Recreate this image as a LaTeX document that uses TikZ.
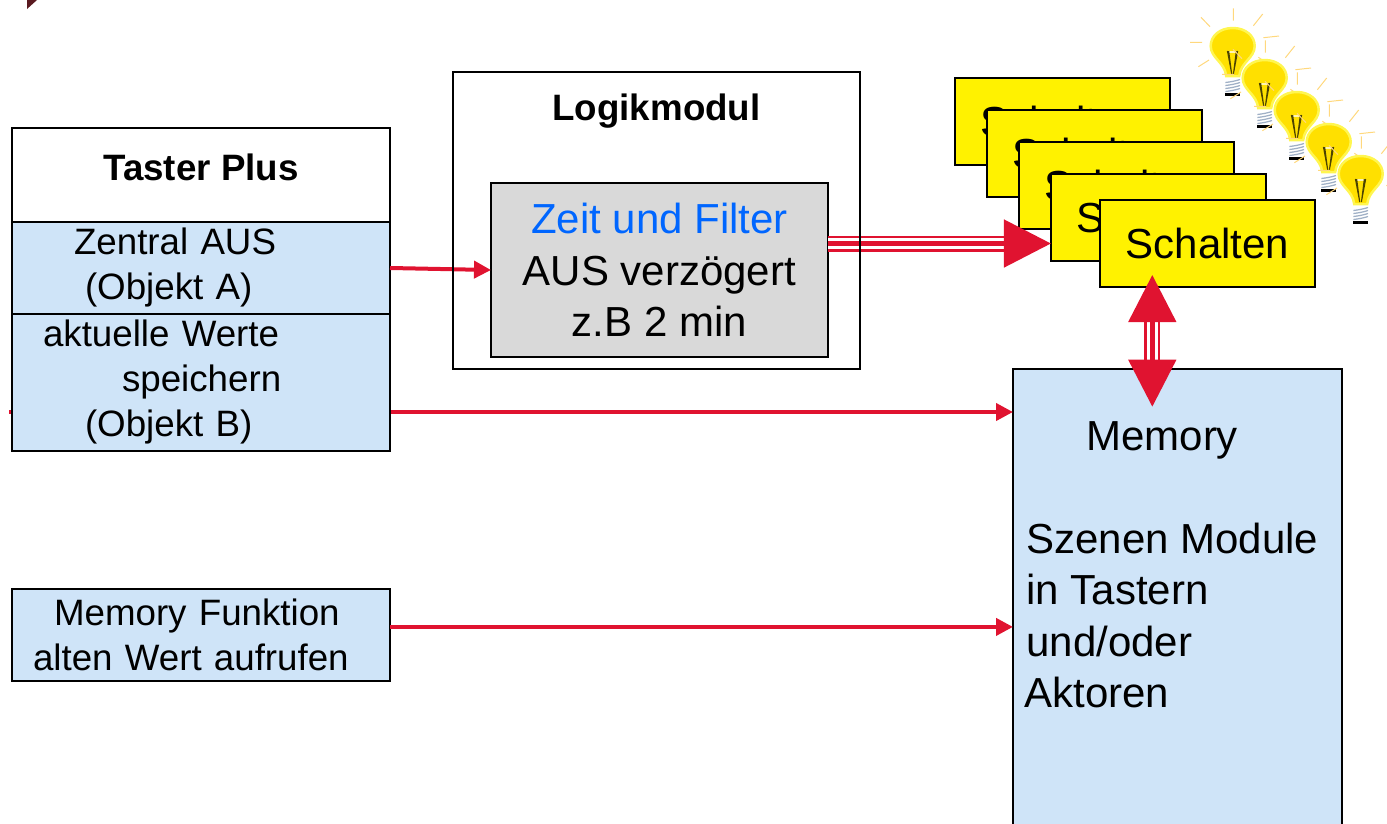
\documentclass[tikz,border=0pt]{standalone}
\usepackage{fontspec}
\setmainfont{Liberation Sans}
\usetikzlibrary{arrows.meta}

\definecolor{paleblue}{RGB}{207,228,248}
\definecolor{boxgrey}{RGB}{217,217,217}
\definecolor{arrowred}{RGB}{224,19,48}
\definecolor{titleblue}{RGB}{0,102,255}
\definecolor{cornerdark}{RGB}{90,26,32}
\definecolor{bulbgold}{RGB}{255,224,0}
\definecolor{bulbhalo}{RGB}{255,246,80}
\definecolor{bulbray}{RGB}{255,216,125}
\definecolor{bulbscrew}{RGB}{160,176,198}

\newlength{\pxu}
\setlength{\pxu}{0.02cm}

\tikzset{
  bulb/.pic={
    \draw[bulbray, line width=0.02cm]
      (0.7,-41.7) -- (0.7,-29.3)
      (-31.7,-32.7) -- (-22.7,-23.3)
      (-42.7,-7.7) -- (-30.7,-7.7)
      (-34.3,16.7) -- (-23.7,10)
      (30,-36) -- (20.7,-24.3)
      (30.7,-12.3) -- (46.3,-14)
      (25.7,7.3) -- (34.7,13.3);
    \draw[draw=bulbhalo, fill=bulbgold, line width=0.05cm]
      (0,-22) .. controls (13,-22) and (22,-14) .. (22,-4)
      .. controls (22,8) and (8,12) .. (6.5,26) -- (-6.5,26)
      .. controls (-8,12) and (-22,8) .. (-22,-4)
      .. controls (-22,-14) and (-13,-22) .. (0,-22) -- cycle;
    \draw[white!70!bulbgold, line width=0.05cm] (-4.5,2) -- (4.5,2);
    \draw[black!70!bulbgold, line width=0.02cm]
      (-5.3,1) -- (-1,24) (5,1) -- (0.7,24) (-1,24) -- (-4,1) (0.7,24) -- (3.6,1);
    \foreach \s in {31,34,37,40}
      \draw[bulbscrew, line width=0.025cm] (-7.3,\s+1.5) .. controls (-3,\s+1) and (3,\s) .. (7.3,\s-1.5);
    \fill[black] (-7.3,43) rectangle (7.3,45.5);
  }
}

\begin{document}
\begin{tikzpicture}[
  x=0.02cm, y=-0.02cm,
  txtmid/.style={font=\fontsize{20.9}{25.6}\selectfont},
  txtbig/.style={font=\fontsize{23.9}{29.3}\selectfont},
  txthead/.style={font=\fontsize{20.9}{25.6}\selectfont\bfseries},
  blackbox/.style={draw=black, line width=0.055cm, outer sep=0pt, inner sep=0pt},
  bluebox/.style={blackbox, fill=paleblue, txtmid, text width=378\pxu, align=left, minimum width=378\pxu},
  schalter/.style={blackbox, fill=yellow, txtbig, minimum width=215\pxu, minimum height=87\pxu, node distance=0.905cm},
  redarrow/.style={-{Triangle[length=0.34cm,width=0.34cm]}, arrowred, line width=0.08cm},
  bigarrow/.style={-{Triangle[length=0.94cm,width=0.94cm]}, arrowred, line width=0.1cm},
  bothbigarrow/.style={{Triangle[length=0.94cm,width=0.94cm]}-{Triangle[length=0.94cm,width=0.94cm]}, arrowred, line width=0.1cm},
  sidelines/.style={arrowred, line width=0.05cm, double=white, double distance=0.22cm}
]
\useasboundingbox (0,0) rectangle (1387,823);
\clip (0,0) rectangle (1387,823);

\fill[cornerdark] (27,0) -- (37,0) -- (27,9) -- cycle;

% Memory block, runs off the bottom edge
\node[blackbox, fill=paleblue, minimum width=329\pxu, minimum height=480\pxu] (memory) at (1177.5,609) {};
\node[txtbig, align=left, anchor=north west, inner sep=0pt] (memorytxt) at (1024,421) {\hspace*{62\pxu}Memory\\~\\\hspace*{2\pxu}Szenen Module\\\hspace*{2\pxu}in Tastern\\\hspace*{2\pxu}und/oder\\Aktoren};

% This one starts behind the left column
\coordinate (werteback) at (9,412);
\draw[redarrow] (werteback) -- (werteback -| memory.west);

% Left column
\node[blackbox, fill=white, minimum width=378\pxu, minimum height=94\pxu] (taster) at (201,175) {};
\node[txthead, above of=taster, node distance=0.16cm] (tastertxt) {Taster Plus};
\node[bluebox, minimum height=92\pxu, below of=taster, node distance=1.86cm] (zentral) {\hspace*{62\pxu}Zentral AUS\\\hspace*{73\pxu}(Objekt A)};
\node[bluebox, minimum height=137\pxu, below of=zentral, node distance=2.29cm] (werte) {\hspace*{31\pxu}aktuelle Werte\\\hspace*{110\pxu}speichern\\\hspace*{73\pxu}(Objekt B)};
\node[bluebox, minimum height=92\pxu, below of=werte, node distance=5.05cm] (memfunk) {\hspace*{42\pxu}Memory Funktion\\\hspace*{21\pxu}alten Wert aufrufen};

% Logic module
\node[blackbox, fill=boxgrey, txtbig, align=center, minimum width=337\pxu, minimum height=174\pxu] (filter) at (659.5,270) {\textcolor{titleblue}{Zeit und Filter}\\AUS verzögert\\z.B 2 min};

% Stacked actuators
\node[schalter] (sw1) at (1062.5,121.5) {Schalten};
\node[schalter, below right of=sw1] (sw2) {Schalten};
\node[schalter, below right of=sw2] (sw3) {Schalten};
\node[schalter, below right of=sw3] (sw4) {Schalten};
\node[schalter] (sw5) at (1207.5,243.5) {Schalten};

% Connectors
\draw[redarrow] (zentral.east) -- (filter.west);
\draw[redarrow] ([yshift=0.16cm]memfunk.east) -- ([yshift=0.16cm]memfunk.east -| memory.west);

\draw[sidelines, shorten >=0.8cm] (filter.east |- sw5.center) -- (sw4.west |- sw5.center);
\draw[bigarrow] (filter.east |- sw5.center) -- (sw4.west |- sw5.center);

\coordinate (schtip) at (1152.3,275);
\coordinate (memtip) at (1152.3,406.7);
\draw[sidelines, shorten >=0.8cm, shorten <=0.8cm] (schtip) -- (memtip);
\draw[bothbigarrow] (schtip) -- (memtip);

% Frame goes over the triple lines
\node[blackbox, minimum width=407\pxu, minimum height=297\pxu] (logik) at (656.5,220.5) {};
\node[txthead, above of=logik, node distance=2.19cm] (logiktxt) {Logikmodul};

% Bulbs
\pic at (1232.7,50) {bulb};
\pic at (1264.7,82) {bulb};
\pic at (1296.7,114) {bulb};
\pic at (1328.7,146) {bulb};
\pic at (1360.7,178) {bulb};

\end{tikzpicture}
\end{document}
